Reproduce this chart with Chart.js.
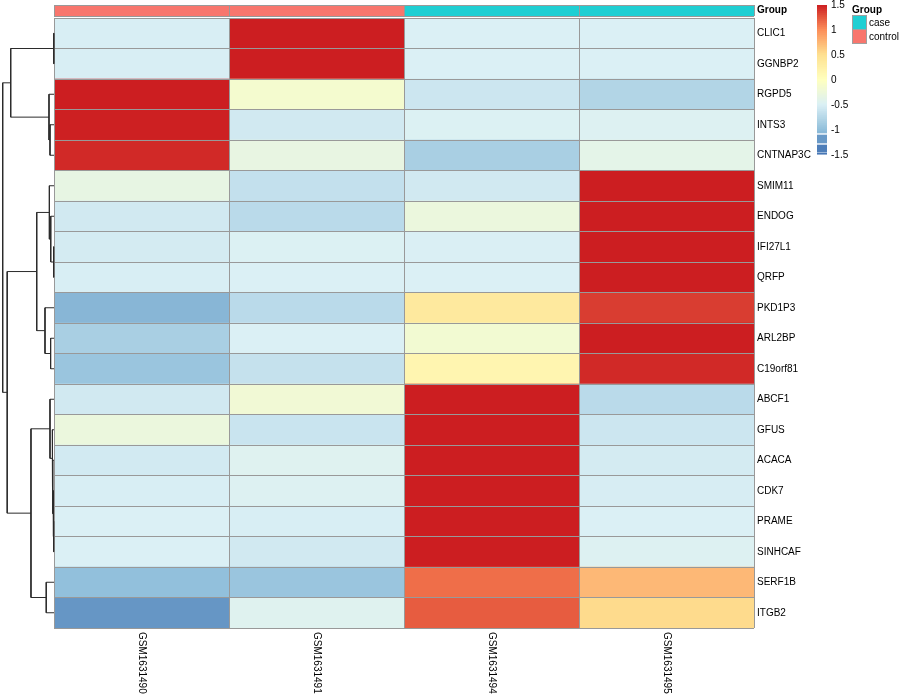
<!DOCTYPE html>
<html><head><meta charset="utf-8">
<script src="https://cdn.jsdelivr.net/npm/chart.js@4/dist/chart.umd.min.js"></script>
<style>
html,body{margin:0;padding:0;background:#fff;}
#wrap{position:relative;width:900px;height:700px;overflow:hidden;font-family:"Liberation Sans",Arial,sans-serif;}
canvas{position:absolute;}
.lg{position:absolute;font-size:10px;line-height:10px;color:#000;white-space:nowrap;}
.box{position:absolute;box-sizing:border-box;border:1px solid #a0a0a0;}
</style></head><body>
<div id="wrap">
<canvas id="heat" style="left:0;top:0" width="900" height="700"></canvas>
<canvas id="anno" style="left:0;top:-20px" width="900" height="60"></canvas>
<canvas id="dend" style="left:0;top:18px" width="56" height="610"></canvas>
<canvas id="cbar" style="left:800px;top:-10px" width="60" height="180"></canvas>
<div class="lg" style="left:852px;top:5px;font-weight:bold">Group</div>
<div class="box" style="left:852px;top:15px;width:15px;height:15px;background:#1FCFD3"></div>
<div class="box" style="left:852px;top:29px;width:15px;height:15px;background:#F8766D"></div>
<div class="lg" style="left:869px;top:18px">case</div>
<div class="lg" style="left:869px;top:32px">control</div>
</div>
<script>
// ---------- data ----------
const genes = ['CLIC1','GGNBP2','RGPD5','INTS3','CNTNAP3C','SMIM11','ENDOG','IFI27L1','QRFP','PKD1P3','ARL2BP','C19orf81','ABCF1','GFUS','ACACA','CDK7','PRAME','SINHCAF','SERF1B','ITGB2'];
const samples = ['GSM1631490','GSM1631491','GSM1631494','GSM1631495'];
const sampleGroups = ['control','control','case','case'];
const GSM1631490 = [-0.52,-0.52,1.50,1.49,1.45,-0.33,-0.57,-0.55,-0.52,-1.06,-0.84,-0.94,-0.57,-0.28,-0.56,-0.52,-0.50,-0.50,-0.99,-1.28];
const GSM1631491 = [1.50,1.50,-0.15,-0.57,-0.32,-0.66,-0.72,-0.48,-0.50,-0.72,-0.50,-0.65,-0.20,-0.62,-0.45,-0.47,-0.52,-0.57,-0.94,-0.44];
const GSM1631494 = [-0.50,-0.50,-0.60,-0.48,-0.84,-0.57,-0.28,-0.51,-0.50,0.35,-0.18,0.16,1.50,1.50,1.50,1.50,1.50,1.50,1.14,1.22];
const GSM1631495 = [-0.50,-0.50,-0.78,-0.47,-0.38,1.50,1.50,1.50,1.50,1.36,1.50,1.45,-0.72,-0.60,-0.55,-0.53,-0.50,-0.47,0.74,0.53];
// row dendrogram (hclust style: negative = leaf row number, positive = earlier merge)
const mergeA = [-1,-8,-17,-16,-15,-14,-7,-11,-4,-13,-6,-3,-19,-10,11,10,1,15,17];
const mergeB = [-2,-9,-18,3,4,5,2,-12,-5,6,7,9,-20,8,14,13,12,16,18];
const mergeHeight = [0.02,0.03,0.03,0.06,0.10,0.14,0.26,0.27,0.32,0.32,0.37,0.40,0.62,0.72,1.38,1.84,3.46,3.74,4.10];
const legendTicks = [-1.5,-1,-0.5,0,0.5,1,1.5];
const legendBlocks = [[-1.26,-1.10],[-1.44,-1.30],[-1.485,-1.46]];

// ---------- colours ----------
const rampStops = [-1.5,-1,-0.5,0,0.5,1,1.5];
const rampColors = ['#4575B4','#91BFDB','#DBF0F5','#FFFFBF','#FEE090','#FC8D59','#CC1E21'];
const groupColors = {case:'#1FCFD3', control:'#F8766D'};
function hex(c){return [parseInt(c.slice(1,3),16),parseInt(c.slice(3,5),16),parseInt(c.slice(5,7),16)];}
function ramp(v){
  v=Math.max(rampStops[0],Math.min(rampStops[rampStops.length-1],v));
  for(let i=0;i<rampStops.length-1;i++){
    if(v<=rampStops[i+1]){
      const t=(v-rampStops[i])/(rampStops[i+1]-rampStops[i]);
      const a=hex(rampColors[i]),b=hex(rampColors[i+1]);
      return 'rgb('+a.map((x,k)=>Math.round(x+(b[k]-x)*t)).join(',')+')';
    }
  }
}
const FONT = '"Liberation Sans", Arial, sans-serif';
const GRID = '#999999';

// ---------- heatmap ----------
const columns = [GSM1631490,GSM1631491,GSM1631494,GSM1631495];
const colLabelPlugin = {
  id:'colLabels',
  afterDraw(chart){
    const {ctx,chartArea,scales} = chart;
    ctx.save();
    ctx.font = '10px '+FONT; ctx.fillStyle='#000';
    ctx.textAlign='left'; ctx.textBaseline='middle';
    samples.forEach((s,i)=>{
      const px = scales.x.getPixelForValue(i+0.5);
      ctx.save(); ctx.translate(px, chartArea.bottom+4); ctx.rotate(Math.PI/2);
      ctx.fillText(s,0,0); ctx.restore();
    });
    ctx.restore();
  }
};
new Chart(document.getElementById('heat'),{
  type:'bar',
  data:{
    labels:genes,
    datasets:columns.map((vals,c)=>({
      label:samples[c],
      data:vals.map(()=>[c,c+1]),
      backgroundColor:vals.map(ramp),
      borderWidth:0, grouped:false, barPercentage:1, categoryPercentage:1
    }))
  },
  options:{
    indexAxis:'y', responsive:false, animation:false,
    layout:{padding:{left:54,top:18,bottom:72,right:0}},
    plugins:{legend:{display:false},tooltip:{enabled:false}},
    scales:{
      x:{type:'linear',min:0,max:4,position:'bottom',
         ticks:{display:false,stepSize:1},
         grid:{color:GRID,lineWidth:1,drawTicks:false,z:1},
         border:{display:false},
         afterFit(s){s.height=0;}},
      y:{type:'category',position:'right',offset:true,
         ticks:{color:'#000',font:{family:FONT,size:10},padding:3,autoSkip:false},
         grid:{color:GRID,lineWidth:1,drawTicks:false,offset:true,z:1},
         border:{display:false},
         afterFit(s){s.width=146;}}
    }
  },
  plugins:[colLabelPlugin]
});

// ---------- annotation bar ----------
new Chart(document.getElementById('anno'),{
  type:'bar',
  data:{
    labels:['Group'],
    datasets:sampleGroups.map((g,c)=>({
      label:samples[c], data:[[c,c+1]], backgroundColor:groupColors[g],
      borderWidth:0, grouped:false, barPercentage:1, categoryPercentage:1
    }))
  },
  options:{
    indexAxis:'y', responsive:false, animation:false,
    layout:{padding:{left:54,top:25,bottom:24,right:0}},
    plugins:{legend:{display:false},tooltip:{enabled:false}},
    scales:{
      x:{type:'linear',min:0,max:4,ticks:{display:false,stepSize:1},
         grid:{color:GRID,drawTicks:false,z:1},border:{display:false},
         afterFit(s){s.height=0;}},
      y:{type:'category',position:'right',offset:true,
         ticks:{color:'#000',font:{family:FONT,size:10,weight:'bold'},padding:3},
         grid:{color:GRID,drawTicks:false,offset:true,z:1},border:{display:false},
         afterFit(s){s.width=146;}}
    }
  }
});

// ---------- dendrogram ----------
const nodeY=[], nodeH=[], dendSets=[];
for(let k=0;k<mergeA.length;k++){
  const a=mergeA[k], b=mergeB[k], h=mergeHeight[k];
  const ya = a<0 ? (-a-1) : nodeY[a-1], ha = a<0 ? 0 : nodeH[a-1];
  const yb = b<0 ? (-b-1) : nodeY[b-1], hb = b<0 ? 0 : nodeH[b-1];
  nodeY.push((ya+yb)/2); nodeH.push(h);
  dendSets.push({data:[{x:ha,y:ya},{x:h,y:ya},{x:h,y:yb},{x:hb,y:yb}],
    showLine:true,borderColor:'#2b2b2b',borderWidth:1,pointRadius:0,tension:0,fill:false,clip:false});
}
const rootH = mergeHeight[mergeHeight.length-1];
new Chart(document.getElementById('dend'),{
  type:'scatter',
  data:{datasets:dendSets},
  options:{
    responsive:false, animation:false,
    layout:{padding:{left:0,right:2,top:0,bottom:0}},
    plugins:{legend:{display:false},tooltip:{enabled:false}},
    scales:{
      x:{type:'linear',min:0,max:rootH*54/51.3,reverse:true,display:false},
      y:{type:'linear',min:-0.5,max:genes.length-0.5,reverse:true,display:false}
    }
  }
});

// ---------- colour legend ----------
const segs=[];
const gTop=1.5, gBot=-1.06, nSeg=64;
for(let i=0;i<nSeg;i++){
  const lo=gBot+(gTop-gBot)*i/nSeg, hi=gBot+(gTop-gBot)*(i+1)/nSeg;
  segs.push({lo,hi,col:ramp((lo+hi)/2)});
}
legendBlocks.forEach(([lo,hi])=>segs.push({lo,hi,col:ramp(lo)}));
new Chart(document.getElementById('cbar'),{
  type:'bar',
  data:{labels:['v'],datasets:segs.map(s=>({data:[[s.lo,s.hi]],backgroundColor:s.col,borderWidth:0,
    grouped:false,barPercentage:1,categoryPercentage:1}))},
  options:{
    responsive:false, animation:false,
    layout:{padding:{left:17,top:15,bottom:15,right:0}},
    plugins:{legend:{display:false},tooltip:{enabled:false}},
    scales:{
      x:{type:'category',display:false},
      y:{type:'linear',min:legendTicks[0],max:legendTicks[legendTicks.length-1],position:'right',
         afterBuildTicks(s){s.ticks=legendTicks.map(v=>({value:v}));},
         ticks:{color:'#000',font:{family:FONT,size:10},padding:4,autoSkip:false,
                callback:(v)=>String(v)},
         grid:{display:false,drawTicks:false},border:{display:false},
         afterFit(s){s.width=33;}}
    }
  }
});
</script>
</body></html>
